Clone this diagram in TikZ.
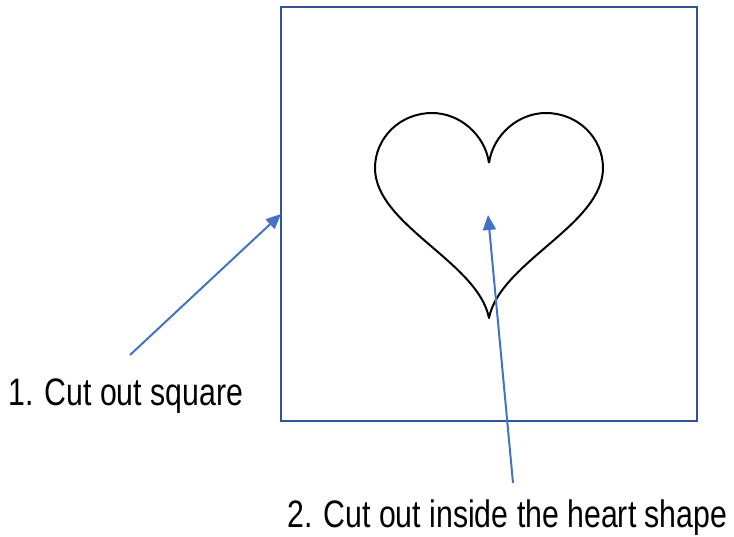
\documentclass[tikz,border=0pt]{standalone}
\usepackage{fontspec}
\setmainfont{Liberation Sans}[FakeStretch=0.79]
\usetikzlibrary{arrows.meta}
\definecolor{sqblue}{RGB}{47,85,151}
\definecolor{arblue}{RGB}{68,114,196}
\begin{document}
\begin{tikzpicture}[x=1pt,y=-1pt,
  label text/.style={font=\fontsize{38.3}{46}\selectfont, inner sep=0pt, anchor=base west},
  pointer/.style={draw=arblue, line width=2pt, -{Triangle[length=15pt,width=13pt]}},
  heartline/.style={draw=black, line width=2pt, line join=round}]
\useasboundingbox (0,0) rectangle (734,536);
\node[draw=sqblue, line width=2pt, minimum width=416pt, minimum height=414pt,
      inner sep=0pt, outer sep=0pt, anchor=north west] (sq) at (281,7) {};
% heart
\draw[heartline] (489,163)
  .. controls (485,135) and (460,113) .. (432,113)
  .. controls (400,113) and (375,138) .. (375,168)
  .. controls (375,225) and (478,262) .. (489,318)
  .. controls (500,262) and (603,225) .. (603,168)
  .. controls (603,138) and (578,113) .. (546,113)
  .. controls (518,113) and (493,135) .. (489,163);
\coordinate (hc) at (488,215);
\coordinate (t1) at (130,355);
\coordinate (t2) at (513,483);
\node[label text] (l1) at (8,405) {1. Cut out square};
\node[label text] (l2) at (287,527.5) {2. Cut out inside the heart shape};
\draw[pointer] (t1) -- (sq.west);
\draw[pointer] (t2) -- (hc);
\end{tikzpicture}
\end{document}
